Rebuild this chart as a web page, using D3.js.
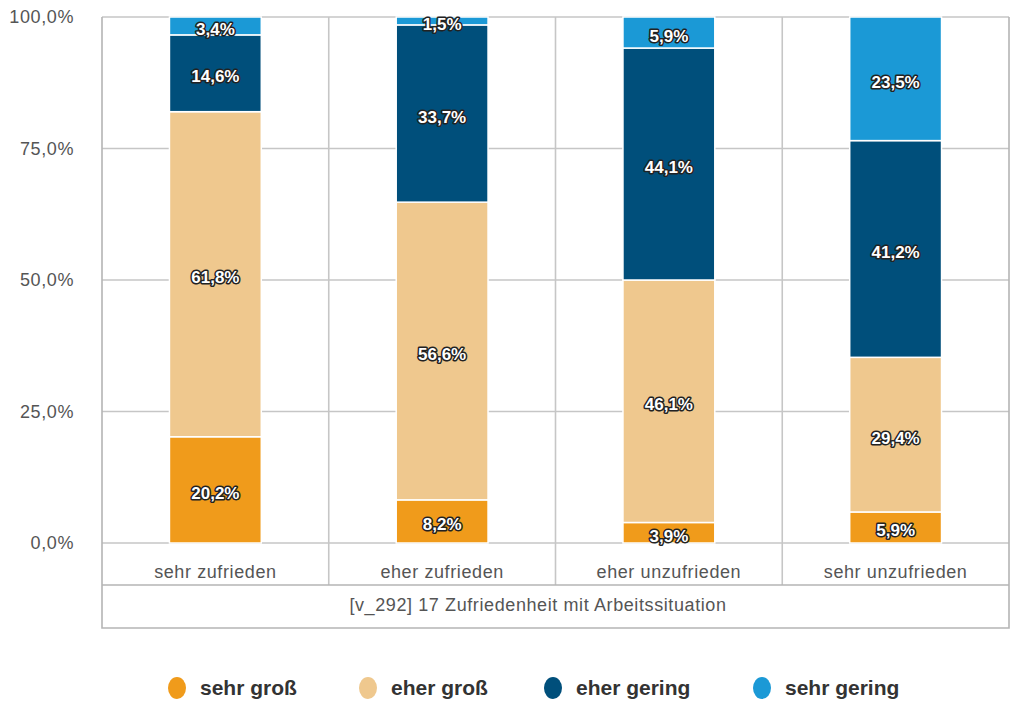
<!DOCTYPE html>
<html>
<head>
<meta charset="utf-8">
<script src="https://cdn.jsdelivr.net/npm/d3@7"></script>
<style>
body { margin: 0; background: #fff; }
text { font-family: "Liberation Sans", Arial, sans-serif; }
</style>
</head>
<body>
<script>
// data
var categories = ["sehr zufrieden", "eher zufrieden", "eher unzufrieden", "sehr unzufrieden"];
var series = ["sehr groß", "eher groß", "eher gering", "sehr gering"];
var sehrGross = [20.2, 8.2, 3.9, 5.9];
var eherGross = [61.8, 56.6, 46.1, 29.4];
var eherGering = [14.6, 33.7, 44.1, 41.2];
var sehrGering = [3.4, 1.5, 5.9, 23.5];
var yTicks = [0, 25, 50, 75, 100];
var title = "[v_292] 17 Zufriedenheit mit Arbeitssituation";
var colors = ["#f09b1b", "#efc88e", "#004f7b", "#1b99d6"];

var w = 1013, h = 701;
var plotLeft = 102, plotRight = 1009, plotTop = 17, plotBottom = 543;
var catRow = 585, titleRow = 628;

var rows = categories.map(function(c, i) {
	return { cat: c, "sehr groß": sehrGross[i], "eher groß": eherGross[i],
		"eher gering": eherGering[i], "sehr gering": sehrGering[i] };
});

var svg = d3.select("body")
	.append("svg")
	.attr("width", w)
	.attr("height", h);

var x = d3.scaleBand()
	.domain(categories)
	.range([plotLeft, plotRight]);
var y = d3.scaleLinear()
	.domain([0, 100])
	.range([plotBottom, plotTop]);
var color = d3.scaleOrdinal().domain(series).range(colors);
var barW = x.bandwidth() * 0.405;

// gridlines
svg.selectAll("line.grid")
	.data(yTicks)
	.enter()
	.append("line")
	.attr("class", "grid")
	.attr("x1", plotLeft).attr("x2", plotRight)
	.attr("y1", function(d) { return y(d); })
	.attr("y2", function(d) { return y(d); })
	.attr("stroke", "#c6c6c6")
	.attr("stroke-width", 1.6);

// column dividers
svg.selectAll("line.div")
	.data(categories.slice(1))
	.enter()
	.append("line")
	.attr("class", "div")
	.attr("x1", function(d) { return x(d); })
	.attr("x2", function(d) { return x(d); })
	.attr("y1", plotTop).attr("y2", catRow)
	.attr("stroke", "#c6c6c6")
	.attr("stroke-width", 1.6);

// table frame below the plot
svg.append("line")
	.attr("x1", plotLeft).attr("x2", plotRight).attr("y1", catRow).attr("y2", catRow)
	.attr("stroke", "#b5b5b5").attr("stroke-width", 1.6);
svg.append("path")
	.attr("d", "M" + plotLeft + "," + plotTop + "V" + titleRow + "H" + plotRight + "V" + plotTop)
	.attr("fill", "none")
	.attr("stroke", "#b5b5b5")
	.attr("stroke-width", 1.6);

// y tick labels
svg.selectAll("text.ytick")
	.data(yTicks)
	.enter()
	.append("text")
	.attr("class", "ytick")
	.attr("x", 74)
	.attr("y", function(d) { return y(d) + 6; })
	.attr("text-anchor", "end")
	.attr("font-size", "18px")
	.attr("letter-spacing", "0.6px")
	.attr("fill", "#555")
	.text(function(d) { return d.toFixed(1).replace(".", ",") + "%"; });

// stacked bars
var stacked = d3.stack().keys(series)(rows);

var layer = svg.selectAll("g.layer")
	.data(stacked)
	.enter()
	.append("g")
	.attr("class", "layer")
	.attr("fill", function(d) { return color(d.key); });

layer.selectAll("rect")
	.data(function(d) { return d; })
	.enter()
	.append("rect")
	.attr("x", function(d) { return x(d.data.cat) + (x.bandwidth() - barW) / 2; })
	.attr("width", barW)
	.attr("y", function(d) { return y(d[1]); })
	.attr("height", function(d) { return y(d[0]) - y(d[1]); })
	.attr("stroke", "#fff")
	.attr("stroke-width", 1.5);

// value labels
layer.selectAll("text")
	.data(function(d) { return d; })
	.enter()
	.append("text")
	.attr("x", function(d) { return x(d.data.cat) + x.bandwidth() / 2; })
	.attr("y", function(d) { return (y(d[0]) + y(d[1])) / 2 + 9; })
	.attr("text-anchor", "middle")
	.attr("font-size", "17px")
	.attr("font-weight", "bold")
	.attr("fill", "#fff")
	.attr("stroke", "#222")
	.attr("stroke-width", 3)
	.attr("paint-order", "stroke")
	.attr("stroke-linejoin", "round")
	.text(function(d) { return (d[1] - d[0]).toFixed(1).replace(".", ",") + "%"; });

// category labels
svg.selectAll("text.cat")
	.data(categories)
	.enter()
	.append("text")
	.attr("class", "cat")
	.attr("x", function(d) { return x(d) + x.bandwidth() / 2; })
	.attr("y", 578)
	.attr("text-anchor", "middle")
	.attr("font-size", "18px")
	.attr("letter-spacing", "0.6px")
	.attr("fill", "#555")
	.text(function(d) { return d; });

svg.append("text")
	.attr("x", 538)
	.attr("y", 611)
	.attr("text-anchor", "middle")
	.attr("font-size", "18px")
	.attr("letter-spacing", "0.6px")
	.attr("fill", "#555")
	.text(title);

// legend
var legendX = [177, 368, 553, 762];
var legend = svg.selectAll("g.legend")
	.data(series)
	.enter()
	.append("g")
	.attr("class", "legend")
	.attr("transform", function(d, i) { return "translate(" + legendX[i] + ",688)"; });

legend.append("ellipse")
	.attr("rx", 9)
	.attr("ry", 11)
	.attr("fill", function(d) { return color(d); });

legend.append("text")
	.attr("x", 23)
	.attr("y", 7)
	.attr("font-size", "21px")
	.attr("font-weight", "bold")
	.attr("fill", "#333")
	.text(function(d) { return d; });
</script>
</body>
</html>
